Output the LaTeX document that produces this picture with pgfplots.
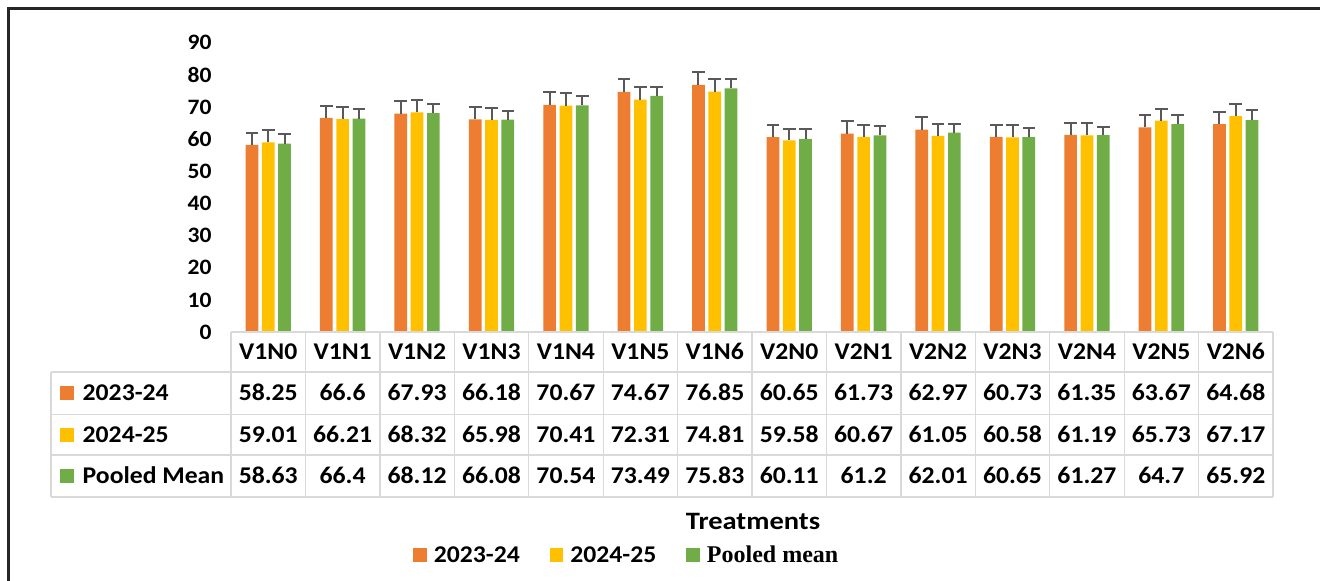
\documentclass[border=0pt]{standalone}
\usepackage{fontspec}
\setmainfont{Carlito}[FakeStretch=1.07]
\newfontfamily\tnr{Liberation Serif}
\newfontfamily\ttlfont{Carlito}[FakeStretch=1.14]
\usepackage{pgfplots}
\usepackage{pgfplotstable}
\pgfplotsset{compat=1.18}
\definecolor{c1}{HTML}{ED7D31}
\definecolor{c2}{HTML}{FFC000}
\definecolor{c3}{HTML}{70AD47}
\definecolor{errc}{HTML}{595959}
\definecolor{gridc}{HTML}{D9D9D9}
\pgfplotsset{
  sqleg/.style={legend image code/.code={\fill[##1,draw=none] (0pt,-6.8pt) rectangle (13.6pt,6.8pt);}},
  errsty/.style={error bars/.cd, y dir=plus, y explicit,
     error bar style={line width=2pt, color=errc},
     error mark options={rotate=90, mark size=6.3pt, line width=2pt, color=errc}},
}
\pgfplotstableread{
x name a ea b eb c ec
0 V1N0 58.25 3.8 59.01 3.9 58.63 2.9
1 V1N1 66.6 3.7 66.21 3.9 66.4 2.9
2 V1N2 67.93 3.9 68.32 3.8 68.12 2.9
3 V1N3 66.18 3.9 65.98 3.8 66.08 2.8
4 V1N4 70.67 4.0 70.41 4.0 70.54 3.0
5 V1N5 74.67 3.9 72.31 3.8 73.49 2.7
6 V1N6 76.85 3.9 74.81 3.8 75.83 2.8
7 V2N0 60.65 3.8 59.58 3.7 60.11 2.9
8 V2N1 61.73 3.9 60.67 3.7 61.2 2.9
9 V2N2 62.97 3.8 61.05 3.7 62.01 2.7
10 V2N3 60.73 3.8 60.58 3.9 60.65 2.7
11 V2N4 61.35 3.8 61.19 3.9 61.27 2.6
12 V2N5 63.67 3.9 65.73 3.8 64.7 2.9
13 V2N6 64.68 3.9 67.17 3.8 65.92 3.1
}\data
\begin{document}
\begin{tikzpicture}
\path[use as bounding box] (0pt,0pt) rectangle (1320pt,-581pt);
\begin{axis}[
  at={(231pt,-332pt)}, anchor=south west, scale only axis,
  width=1042pt, height=289.3pt,
  xmin=-0.5, xmax=13.5, ymin=0, ymax=90,
  ytick={0,10,...,90}, xtick=\empty,
  axis line style={draw=none}, major tick length=0pt,
  yticklabel style={font=\fontsize{22}{26}\selectfont\bfseries, xshift=-16pt,
     /pgf/number format/assume math mode=true},
  ybar=3.6pt, bar width=12.7pt,
  clip=false,
  legend columns=3,
  legend style={at={(0.1747,-0.7708)}, anchor=west, draw=none, fill=none,
     inner xsep=0pt, inner ysep=0pt,
     font=\fontsize{24}{28}\selectfont\bfseries,
     nodes={inner sep=0pt},
     /tikz/every odd column/.style={column sep=7pt},
     /tikz/every even column/.style={column sep=30pt}},
]
\addplot[sqleg, fill=c1, draw=none, errsty] table[x=x, y=a, y error=ea]{\data};
\addlegendentry{2023-24}
\addplot[sqleg, fill=c2, draw=none, errsty] table[x=x, y=b, y error=eb]{\data};
\addlegendentry{2024-25}
\addplot[sqleg, fill=c3, draw=none, errsty] table[x=x, y=c, y error=ec]{\data};
\addlegendentry{{\tnr Pooled mean}}
\end{axis}
% data table grid
\begin{scope}[gridc, line width=1.3pt]
\draw (231pt,-332pt) -- (1273pt,-332pt);
\foreach \yy in {372,414.5,455,497} \draw (51pt,-\yy pt) -- (1273pt,-\yy pt);
\draw (51pt,-372pt) -- (51pt,-497pt);
\foreach \k in {0,...,14} \draw ({(231+74.43*\k)*1pt},-332pt) -- ({(231+74.43*\k)*1pt},-497pt);
\end{scope}
\tikzset{tabtxt/.style={font=\fontsize{24}{28}\selectfont\bfseries, inner sep=0pt, anchor=base}}
\foreach \k in {0,...,13} {
  \pgfplotstablegetelem{\k}{name}\of\data
  \node[tabtxt] at ({(231+74.43*(\k+0.5))*1pt},-359.6pt) {\pgfplotsretval};
  \pgfplotstablegetelem{\k}{a}\of\data
  \node[tabtxt] at ({(231+74.43*(\k+0.5))*1pt},-400.8pt) {\pgfplotsretval};
  \pgfplotstablegetelem{\k}{b}\of\data
  \node[tabtxt] at ({(231+74.43*(\k+0.5))*1pt},-442.4pt) {\pgfplotsretval};
  \pgfplotstablegetelem{\k}{c}\of\data
  \node[tabtxt] at ({(231+74.43*(\k+0.5))*1pt},-483.6pt) {\pgfplotsretval};
}
\node[tabtxt, anchor=base west] at (60pt,-400.8pt) {\textcolor{c1}{\rule[0.5pt]{14pt}{14pt}}\hspace{8.5pt}2023-24};
\node[tabtxt, anchor=base west] at (60pt,-442.4pt) {\textcolor{c2}{\rule[0.5pt]{14pt}{14pt}}\hspace{8.5pt}2024-25};
\node[tabtxt, anchor=base west] at (60pt,-483.6pt) {\textcolor{c3}{\rule[0.5pt]{14pt}{14pt}}\hspace{8.5pt}Pooled Mean};
\node[font=\ttlfont\fontsize{25}{30}\selectfont\bfseries, anchor=base] at (753pt,-529.5pt) {Treatments};
\draw[black!85, line width=3pt] (8.5pt,-581pt) -- (8.5pt,-8.5pt) -- (1320pt,-8.5pt);
\end{tikzpicture}
\end{document}
